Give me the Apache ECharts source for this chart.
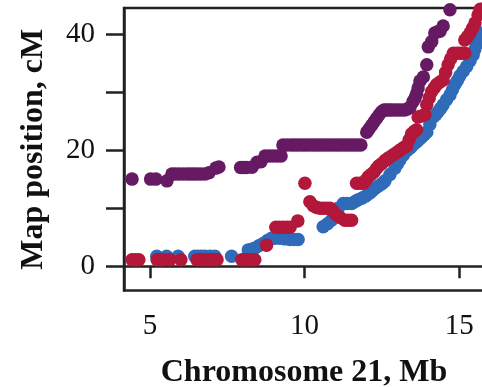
<!DOCTYPE html>
<html>
<head>
<meta charset="utf-8">
<script src="https://cdn.jsdelivr.net/npm/echarts@6/dist/echarts.min.js"></script>
<style>
  html, body { margin: 0; padding: 0; background: #fff; }
  #chart { width: 482px; height: 387px; }
</style>
</head>
<body>
<div id="chart"></div>
<script>
// 坐标刻度
const xTicks = [5, 10, 15];
const yTicks = [0, 10, 20, 30, 40];
const yLabels = [0, 20, 40];

// 紫色序列 [Mb, cM]
const purplePts = [
  [4.42, 15.0], [5.02, 15.0], [5.19, 15.0], [5.55, 14.7], [5.71, 15.9], [5.82, 15.9],
  [5.94, 15.9], [6.07, 15.9], [6.20, 15.9], [6.31, 15.9], [6.42, 15.9], [6.53, 15.9],
  [6.65, 15.9], [6.78, 15.9], [6.91, 16.1], [7.13, 16.9], [7.23, 17.1],
  [7.93, 17.0], [8.03, 17.0], [8.12, 17.0], [8.30, 17.05], [8.46, 17.9], [8.59, 18.0],
  [8.72, 19.0], [8.85, 19.0], [8.98, 19.0], [9.11, 19.0], [9.24, 19.0],
  [9.30, 20.9], [9.43, 20.9], [9.56, 20.9], [9.67, 20.9], [9.78, 20.9], [9.90, 20.9],
  [10.01, 20.9], [10.12, 20.9], [10.24, 20.9], [10.35, 20.9], [10.46, 20.9], [10.58, 20.9],
  [10.69, 20.9], [10.80, 20.9], [10.92, 20.9], [11.03, 20.9], [11.14, 20.9], [11.26, 20.9],
  [11.37, 20.9], [11.48, 20.9], [11.60, 20.9], [11.71, 20.9], [11.82, 20.9],
  [12.01, 23.1], [12.09, 23.7], [12.17, 24.3], [12.25, 24.9], [12.33, 25.5], [12.41, 26.1],
  [12.49, 26.6], [12.57, 26.9], [12.65, 26.9], [12.74, 26.9], [12.82, 26.9], [12.92, 26.9],
  [13.02, 26.9], [13.13, 26.9], [13.24, 26.9], [13.33, 27.1], [13.41, 27.4], [13.51, 28.4],
  [13.57, 29.0], [13.62, 29.7], [13.67, 30.7], [13.73, 31.9], [13.84, 32.6], [13.95, 34.7],
  [14.00, 37.8], [14.11, 38.7], [14.21, 40.2], [14.30, 40.4], [14.38, 40.5], [14.48, 41.4],
  [14.70, 44.2]
];

// 红色序列
const redPts = [
  [4.42, 1.1], [4.53, 1.1], [4.64, 1.1], [5.23, 1.1], [5.34, 1.1], [5.45, 1.1], [5.65, 1.1],
  [6.00, 1.1], [6.52, 1.1], [6.63, 1.1], [6.75, 1.1], [6.86, 1.1], [6.97, 1.1], [7.07, 1.1],
  [7.17, 1.1], [7.97, 1.1], [8.07, 1.1], [8.17, 1.1], [8.28, 1.1], [8.39, 1.1],
  [8.77, 3.6], [9.07, 6.7], [9.18, 6.7], [9.30, 6.7], [9.42, 6.7], [9.53, 6.7], [9.78, 7.8],
  [10.01, 14.3], [10.17, 11.1], [10.28, 10.4], [10.39, 10.1], [10.50, 10.0], [10.60, 10.0],
  [10.71, 10.0], [10.82, 10.0], [10.92, 9.5], [11.01, 8.9], [11.15, 8.4], [11.30, 7.9],
  [11.41, 7.9], [11.52, 7.9], [11.68, 14.3], [11.79, 14.3], [11.90, 14.3], [11.98, 14.8],
  [12.06, 15.4], [12.15, 15.8], [12.24, 16.2], [12.32, 16.8], [12.40, 17.3], [12.50, 17.7],
  [12.60, 18.2], [12.68, 18.5], [12.76, 18.8], [12.87, 19.2], [12.98, 19.6], [13.06, 19.9],
  [13.14, 20.2], [13.22, 20.5], [13.30, 20.7], [13.38, 21.8], [13.46, 22.8], [13.54, 23.2],
  [13.62, 23.5], [13.67, 25.7], [13.78, 25.9], [13.89, 26.1], [13.95, 27.8], [14.03, 29.0],
  [14.11, 30.1], [14.19, 30.7], [14.27, 31.3], [14.37, 31.7], [14.48, 32.1], [14.56, 33.4],
  [14.64, 34.7], [14.72, 35.7], [14.81, 36.7], [14.92, 36.7], [15.02, 36.7], [15.10, 36.7],
  [15.18, 36.7], [15.18, 39.0], [15.27, 39.6], [15.35, 40.2], [15.43, 41.0], [15.51, 41.9],
  [15.61, 43.3], [15.68, 44.3]
];

// 蓝色序列
const bluePts = [
  [5.22, 1.7], [5.54, 1.7], [5.91, 1.7], [6.45, 1.7], [6.56, 1.7], [6.67, 1.7], [6.78, 1.7],
  [6.94, 1.7], [7.10, 1.7], [7.64, 1.7], [8.18, 2.8], [8.29, 2.9], [8.39, 3.1], [8.52, 3.5],
  [8.66, 3.9], [8.80, 4.4], [8.93, 4.8], [9.06, 4.8], [9.20, 4.8], [9.36, 4.7], [9.53, 4.6],
  [9.66, 4.6], [9.79, 4.6], [10.60, 6.8], [10.74, 7.3], [10.87, 7.9], [11.09, 10.0],
  [11.25, 10.8], [11.38, 10.8], [11.52, 10.8], [11.62, 11.1], [11.72, 11.4], [11.85, 11.7],
  [11.98, 12.1], [12.11, 12.6], [12.19, 13.0], [12.27, 13.4], [12.35, 13.7], [12.44, 14.0],
  [12.52, 14.3], [12.60, 14.7], [12.76, 15.8], [12.92, 16.9], [13.00, 17.6], [13.08, 18.3],
  [13.19, 19.1], [13.30, 19.9], [13.37, 20.2], [13.44, 20.5], [13.53, 21.0], [13.62, 21.4],
  [13.69, 21.8], [13.76, 22.1], [13.86, 22.6], [13.95, 23.1], [14.05, 24.4], [14.16, 25.7],
  [14.24, 26.1], [14.32, 26.6], [14.40, 27.2], [14.48, 27.8], [14.59, 28.7], [14.70, 29.5],
  [14.78, 30.4], [14.86, 31.3], [14.94, 32.0], [15.02, 32.8], [15.13, 33.6], [15.24, 34.4],
  [15.35, 35.4], [15.45, 36.4], [15.50, 37.3], [15.56, 38.2], [15.62, 39.2], [15.67, 40.2]
];

const chart = echarts.init(document.getElementById('chart'), null, { renderer: 'canvas' });

const lineColor = '#222';
const serif = 'Liberation Serif';

const option = {
  animation: false,
  backgroundColor: '#fff',
  grid: {
    left: 124,
    right: -10,
    top: 8,
    bottom: 96.5,
    outerBoundsMode: 'none',
    containLabel: false,
    show: true,
    borderColor: lineColor,
    borderWidth: 2.5
  },
  xAxis: {
    type: 'value',
    min: 4.16,
    max: 16.06,
    name: 'Chromosome 21, Mb',
    nameLocation: 'middle',
    nameGap: 66,
    nameTextStyle: {
      fontFamily: serif,
      fontWeight: 'bold',
      fontSize: 32,
      color: '#111',
      padding: [0, 8, 0, 0]
    },
    splitLine: { show: false },
    axisLine: { show: true, lineStyle: { color: lineColor, width: 2.5 } },
    axisTick: {
      show: true,
      length: 12,
      customValues: xTicks,
      lineStyle: { color: lineColor, width: 2.5 }
    },
    axisLabel: {
      customValues: xTicks,
      margin: 21,
      fontFamily: serif,
      fontSize: 29,
      color: '#111'
    }
  },
  yAxis: {
    type: 'value',
    min: -4.2,
    max: 44.5,
    name: 'Map position, cM',
    nameLocation: 'middle',
    nameGap: 74,
    nameTextStyle: {
      fontFamily: serif,
      fontWeight: 'bold',
      fontSize: 32,
      color: '#111'
    },
    splitLine: { show: false },
    axisLine: { show: true, lineStyle: { color: lineColor, width: 2.5 } },
    axisTick: {
      show: true,
      length: 18,
      customValues: yTicks,
      lineStyle: { color: lineColor, width: 2.5 }
    },
    axisLabel: {
      customValues: yLabels,
      margin: 29,
      fontFamily: serif,
      fontSize: 29,
      color: '#111'
    }
  },
  series: [
    {
      name: 'blue',
      type: 'scatter',
      data: bluePts,
      symbolSize: 13.5,
      itemStyle: { color: '#2f6bb8', opacity: 1 },
      z: 2
    },
    {
      name: 'red',
      type: 'scatter',
      data: redPts,
      symbolSize: 13.5,
      itemStyle: { color: '#b3173a', opacity: 1 },
      z: 3
    },
    {
      name: 'purple',
      type: 'scatter',
      data: purplePts,
      symbolSize: 13.5,
      itemStyle: { color: '#661a63', opacity: 1 },
      z: 4
    }
  ]
};

chart.setOption(option);
</script>
</body>
</html>
